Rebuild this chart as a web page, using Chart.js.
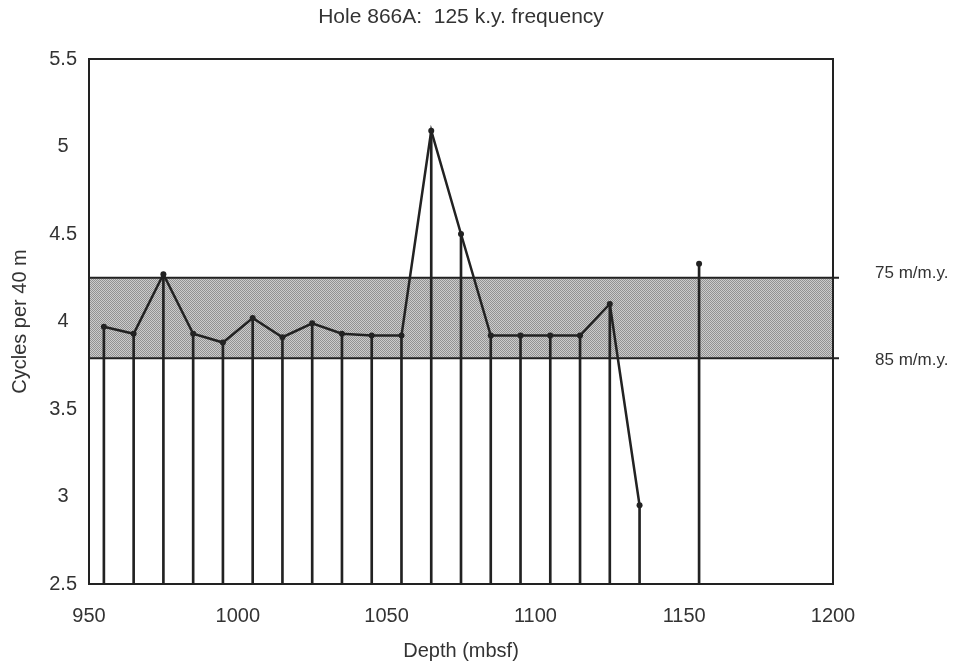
<!DOCTYPE html>
<html>
<head>
<meta charset="utf-8">
<script src="https://cdn.jsdelivr.net/npm/chart.js@4"></script>
<style>
  html, body { margin: 0; background: #fff; }
</style>
</head>
<body>
<canvas id="chart" width="957" height="666"></canvas>
<script>
// depth (mbsf) of each sample and its cycles per 40 m
const depths = [955, 965, 975, 985, 995, 1005, 1015, 1025, 1035, 1045, 1055, 1065, 1075, 1085, 1095, 1105, 1115, 1125, 1135];
const cycles = [3.97, 3.93, 4.27, 3.93, 3.88, 4.02, 3.91, 3.99, 3.93, 3.92, 3.92, 5.09, 4.50, 3.92, 3.92, 3.92, 3.92, 4.10, 2.95];
// lone sample, not joined to the line
const loneDepths = [1155];
const loneCycles = [4.33];

// shaded band of sedimentation rates
const bandLow = 3.79;
const bandHigh = 4.25;
const bandLabels = ['85 m/m.y.', '75 m/m.y.'];

const xTicks = [950, 1000, 1050, 1100, 1150, 1200];
const yTicks = [2.5, 3, 3.5, 4, 4.5, 5, 5.5];

const ink = '#222';
const textColor = '#333';
const fontFamily = '"Liberation Sans", Arial, Helvetica, sans-serif';

// halftone-ish fill for the band
const pc = document.createElement('canvas');
pc.width = 2; pc.height = 2;
const pctx = pc.getContext('2d');
pctx.fillStyle = '#cccccc';
pctx.fillRect(0, 0, 2, 2);
pctx.fillStyle = '#929292';
pctx.fillRect(0, 0, 1, 1);
pctx.fillRect(1, 1, 1, 1);

const stems = depths.map((d, i) => ({ x: d, y: [yTicks[0], cycles[i]] }))
  .concat(loneDepths.map((d, i) => ({ x: d, y: [yTicks[0], loneCycles[i]] })));

const bandPlugin = {
  id: 'band',
  beforeDatasetsDraw(chart) {
    const { ctx, chartArea: a, scales: { y } } = chart;
    const yHi = y.getPixelForValue(bandHigh);
    const yLo = y.getPixelForValue(bandLow);
    ctx.save();
    ctx.fillStyle = ctx.createPattern(pc, 'repeat');
    ctx.fillRect(a.left, yHi, a.right - a.left, yLo - yHi);
    ctx.strokeStyle = ink;
    ctx.lineWidth = 2;
    ctx.beginPath();
    ctx.moveTo(a.left, yHi); ctx.lineTo(a.right + 6, yHi);
    ctx.moveTo(a.left, yLo); ctx.lineTo(a.right + 6, yLo);
    ctx.stroke();
    ctx.restore();
  },
  afterDatasetsDraw(chart) {
    const { ctx, chartArea: a, scales: { y } } = chart;
    ctx.save();
    ctx.strokeStyle = ink;
    ctx.lineWidth = 2;
    ctx.strokeRect(a.left, a.top, a.right - a.left, a.bottom - a.top);
    ctx.fillStyle = textColor;
    ctx.font = '17px ' + fontFamily;
    ctx.textAlign = 'left';
    ctx.textBaseline = 'middle';
    ctx.fillText(bandLabels[1], a.right + 42, y.getPixelForValue(bandHigh) - 4);
    ctx.fillText(bandLabels[0], a.right + 42, y.getPixelForValue(bandLow) + 2);
    ctx.restore();
  }
};

new Chart(document.getElementById('chart'), {
  type: 'bar',
  data: {
    datasets: [
      {
        type: 'line',
        data: depths.map((d, i) => ({ x: d, y: cycles[i] })),
        borderColor: ink,
        borderWidth: 2.5,
        pointRadius: 3,
        pointBackgroundColor: ink,
        pointBorderWidth: 0,
        tension: 0,
        fill: false,
        order: 1
      },
      {
        type: 'line',
        data: loneDepths.map((d, i) => ({ x: d, y: loneCycles[i] })),
        showLine: false,
        pointRadius: 3,
        pointBackgroundColor: ink,
        pointBorderWidth: 0,
        order: 1
      },
      {
        type: 'bar',
        data: stems,
        backgroundColor: ink,
        borderWidth: 0,
        barThickness: 2,
        order: 2
      }
    ]
  },
  options: {
    responsive: false,
    animation: false,
    layout: { padding: { right: 124 } },
    plugins: {
      legend: { display: false },
      tooltip: { enabled: false },
      title: {
        display: true,
        text: 'Hole 866A:  125 k.y. frequency',
        color: textColor,
        fullSize: false,
        font: { family: fontFamily, size: 21, weight: 'normal' },
        padding: { top: 5, bottom: 28.8 }
      }
    },
    scales: {
      x: {
        type: 'linear',
        min: 950,
        max: 1200,
        offset: false,
        grid: { display: false, drawTicks: false, offset: false },
        border: { display: false },
        afterBuildTicks: s => { s.ticks = xTicks.map(v => ({ value: v })); },
        afterFit: s => { s.height = 82; },
        ticks: {
          color: textColor,
          padding: 20,
          maxRotation: 0,
          autoSkip: false,
          font: { family: fontFamily, size: 20 },
          callback: v => String(v)
        },
        title: {
          display: true,
          text: 'Depth (mbsf)',
          color: textColor,
          font: { family: fontFamily, size: 20 },
          padding: { top: 0, bottom: 3 }
        }
      },
      y: {
        min: 2.5,
        max: 5.5,
        beginAtZero: false,
        grid: { display: false, drawTicks: false },
        border: { display: false },
        afterBuildTicks: s => { s.ticks = yTicks.map(v => ({ value: v })); },
        afterFit: s => { s.width = 89; },
        ticks: {
          color: textColor,
          padding: 12,
          crossAlign: 'center',
          font: { family: fontFamily, size: 20 },
          callback: v => String(v)
        },
        title: {
          display: true,
          text: 'Cycles per 40 m',
          color: textColor,
          font: { family: fontFamily, size: 20 },
          padding: { top: 8, bottom: 0 }
        }
      }
    }
  },
  plugins: [bandPlugin]
});
</script>
</body>
</html>
